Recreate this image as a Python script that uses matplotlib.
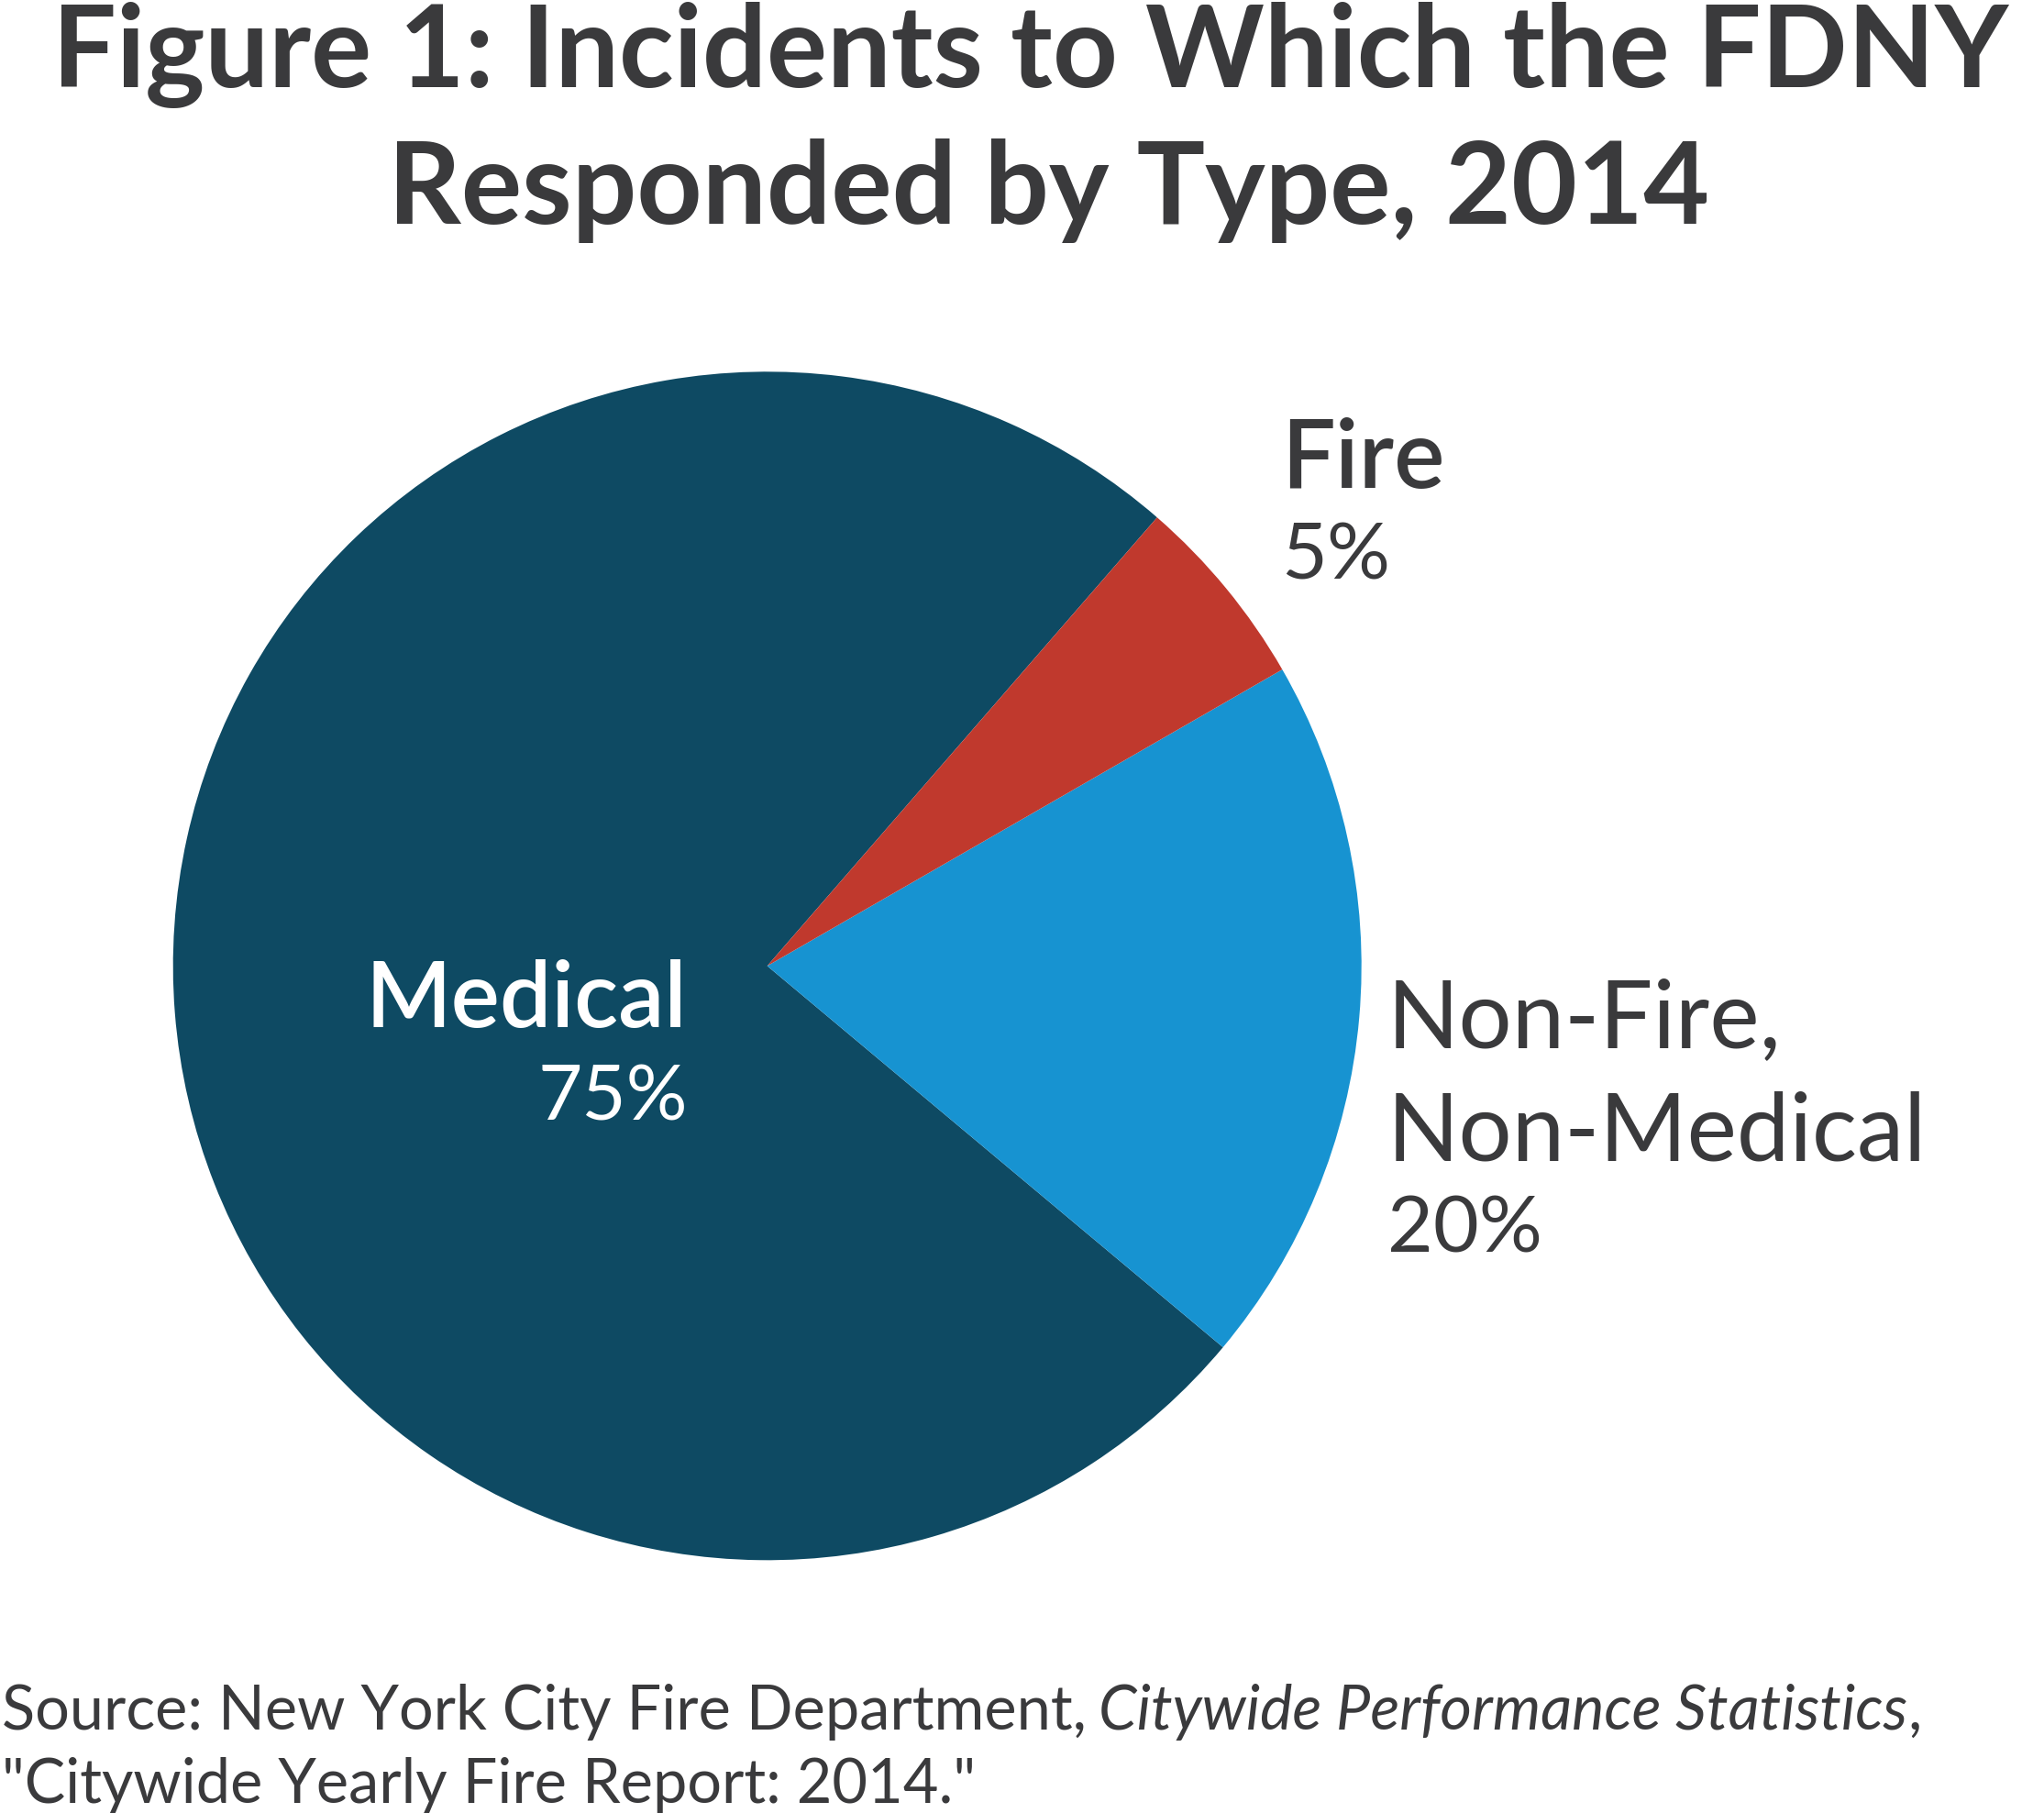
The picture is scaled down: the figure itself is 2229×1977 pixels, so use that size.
import matplotlib
matplotlib.use("Agg")
import matplotlib.pyplot as plt

# shares (percent of all incidents)
categories = ["Medical", "Non-Fire,\nNon-Medical", "Fire"]
shares = [75.3, 19.4, 5.3]
pct_labels = ["75%", "20%", "5%"]
colors = ["#0e4a63", "#1793d1", "#c0392d"]

title_lines = ["Figure 1: Incidents to Which the FDNY", "Responded by Type, 2014"]
source_1 = "Source: New York City Fire Department,"
source_italic = "Citywide Performance Statistics"
source_2 = '"Citywide Yearly Fire Report: 2014."'

TEXT = "#3a3a3c"
W, H = 2229, 1977

plt.rcParams["font.family"] = ["Lato", "DejaVu Sans"]


def fx(px):
    return px / W


def fy(py):
    return 1 - py / H


def main():
    fig = plt.figure(figsize=(W / 100, H / 100), dpi=100)
    fig.patch.set_facecolor("white")

    # pie: centre (836.7, 1053.3) px, radius 648 px
    cx, cy, r = 836.7, 1053.3, 648
    ax = fig.add_axes([fx(cx - r), fy(cy + r), 2 * r / W, 2 * r / H])
    ax.pie(shares, colors=colors, startangle=49, counterclock=True,
           radius=1, wedgeprops=dict(linewidth=0))
    ax.set_xlim(-1, 1)
    ax.set_ylim(-1, 1)
    ax.set_aspect("equal")
    ax.axis("off")

    # title
    fig.text(fx(1124), fy(95), title_lines[0], ha="center", va="baseline",
             fontsize=89, fontweight="bold", color=TEXT)
    fig.text(fx(1144), fy(244), title_lines[1], ha="center", va="baseline",
             fontsize=89.5, fontweight="bold", color=TEXT)

    # slice labels
    fig.text(fx(749), fy(1120), categories[0], ha="right", va="baseline",
             fontsize=72, fontweight="semibold", color="white")
    fig.text(fx(750), fy(1222), pct_labels[0], ha="right", va="baseline",
             fontsize=60, fontweight="normal", color="white")

    fig.text(fx(1397), fy(532), categories[2], ha="left", va="baseline",
             fontsize=75, fontweight="semibold", color=TEXT)
    fig.text(fx(1397), fy(631), pct_labels[2], ha="left", va="baseline",
             fontsize=62, fontweight="normal", color=TEXT)

    nf1, nf2 = categories[1].split("\n")
    fig.text(fx(1513), fy(1142), nf1, ha="left", va="baseline",
             fontsize=74, fontweight="normal", color=TEXT)
    fig.text(fx(1513), fy(1265), nf2, ha="left", va="baseline",
             fontsize=74, fontweight="normal", color=TEXT)
    fig.text(fx(1513), fy(1365), pct_labels[1], ha="left", va="baseline",
             fontsize=62, fontweight="normal", color=TEXT)

    # source note, with the italic title in the middle of line one
    t1 = fig.text(fx(2), fy(1886), source_1, ha="left", va="baseline",
                  fontsize=48, color=TEXT)
    t2 = ax.annotate(source_italic, xy=(1, 0), xycoords=t1,
                     xytext=(9.5, 0), textcoords="offset points",
                     ha="left", va="bottom", fontsize=48, style="italic",
                     color=TEXT, annotation_clip=False)
    ax.annotate(",", xy=(1, 0), xycoords=t2, ha="left", va="bottom",
                fontsize=48, color=TEXT, annotation_clip=False)
    fig.text(fx(2), fy(1966), source_2, ha="left", va="baseline",
             fontsize=48, color=TEXT)

    fig.savefig("out.png", dpi=100, facecolor="white")


if __name__ == "__main__":
    main()
